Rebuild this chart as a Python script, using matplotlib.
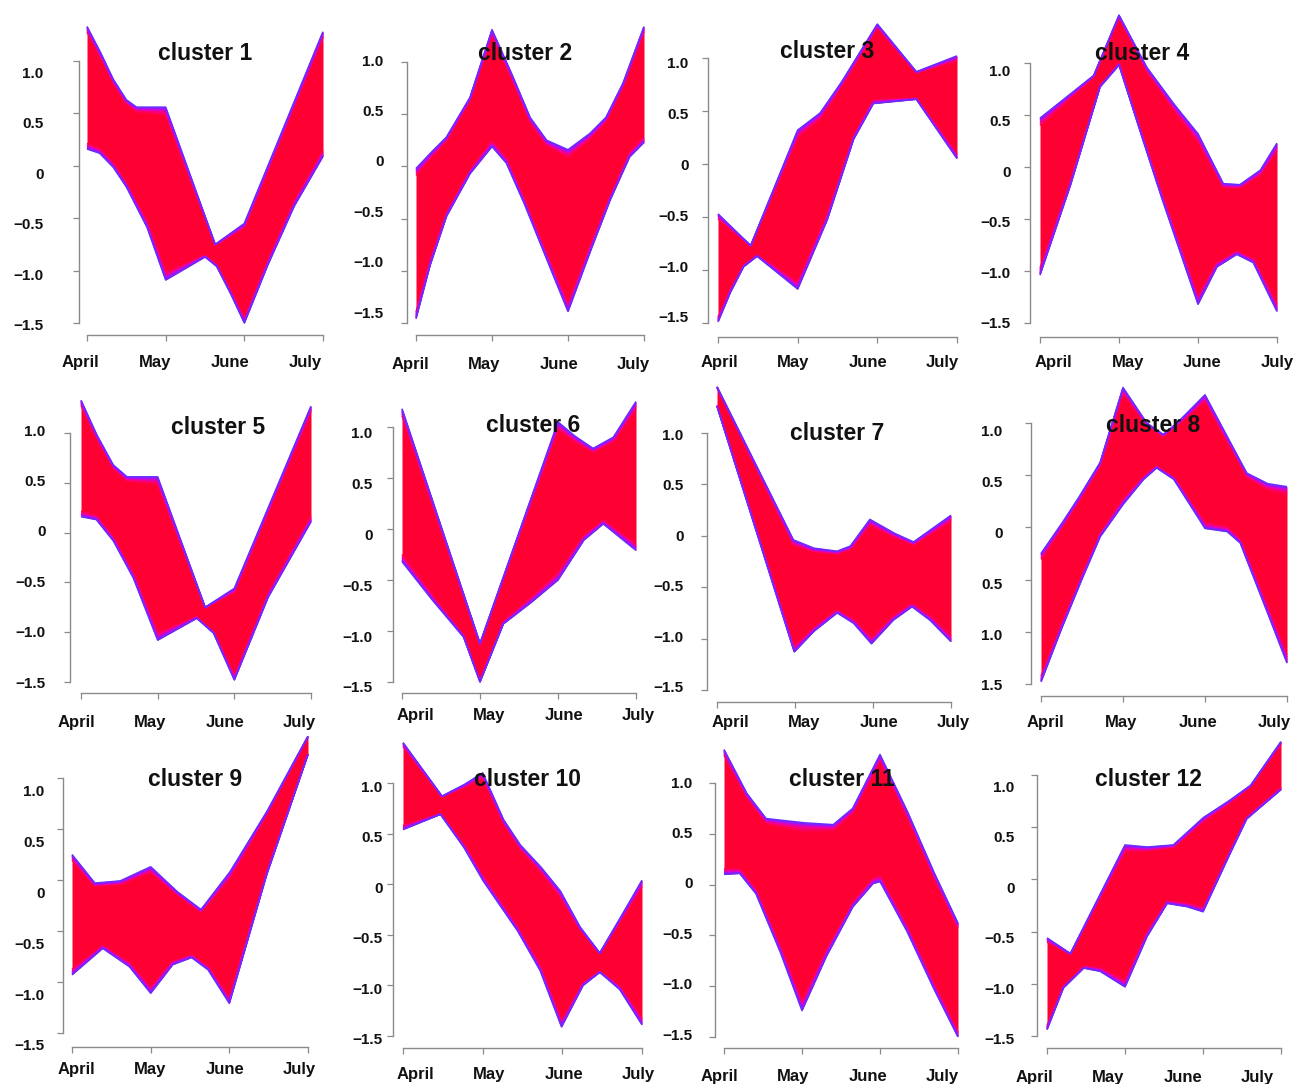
import numpy as np
import matplotlib
matplotlib.use("Agg")
import matplotlib.pyplot as plt
from matplotlib.transforms import ScaledTranslation

plt.rcParams["font.family"] = ["Liberation Sans", "DejaVu Sans"]

W, H = 1298, 1084
DPI = 100

MONTHS = ["April", "May", "June", "July"]
MONTH_POS = [0, 1, 2, 3]
Y_TICKS = [1.0, 0.5, 0.0, -0.5, -1.0, -1.5]
Y_LABELS = ["1.0", "0.5", "0", "\u22120.5", "\u22121.0", "\u22121.5"]
Y_LABELS_C8 = ["1.0", "0.5", "0", "0.5", "1.0", "1.5"]

# Envelopes of the standardised expression profiles in each cluster:
# (month position, value) along the upper and lower edge of the bundle.
c1_upper = [(0, 1.33), (0.16, 1.10), (0.33, 0.83), (0.50, 0.63), (0.63, 0.56), (1.0, 0.56),
            (1.63, -0.75), (2.0, -0.55), (3.0, 1.28)]
c1_lower = [(0, 0.16), (0.16, 0.12), (0.33, -0.01), (0.50, -0.20), (0.76, -0.58), (1.0, -1.09),
            (1.50, -0.87), (1.65, -0.96), (1.82, -1.21), (2.0, -1.50), (2.29, -0.96),
            (2.63, -0.39), (3.0, 0.09)]

c2_upper = [(0, -0.02), (0.18, 0.12), (0.40, 0.28), (0.71, 0.66), (1.0, 1.31), (1.24, 0.92),
            (1.50, 0.47), (1.72, 0.25), (2.0, 0.16), (2.28, 0.31), (2.50, 0.47), (2.72, 0.79),
            (3.0, 1.34)]
c2_lower = [(0, -1.46), (0.18, -0.96), (0.40, -0.48), (0.71, -0.07), (1.0, 0.19), (1.19, 0.03),
            (1.41, -0.33), (1.67, -0.80), (2.0, -1.39), (2.28, -0.84), (2.55, -0.33),
            (2.81, 0.09), (3.0, 0.23)]

c3_upper = [(0, -0.47), (0.41, -0.77), (1.0, 0.32), (1.28, 0.48), (1.54, 0.76), (2.0, 1.32),
            (2.49, 0.87), (3.0, 1.02)]
c3_lower = [(0, -1.49), (0.15, -1.22), (0.32, -0.97), (0.49, -0.87), (1.0, -1.18),
            (1.37, -0.53), (1.70, 0.23), (1.95, 0.57), (2.49, 0.61), (3.0, 0.05)]

c4_upper = [(0, 0.47), (0.68, 0.88), (1.0, 1.46), (1.35, 0.96), (1.69, 0.61), (2.0, 0.32),
            (2.32, -0.16), (2.53, -0.17), (2.79, -0.03), (3.0, 0.23)]
c4_lower = [(0, -1.04), (0.38, -0.19), (0.76, 0.77), (1.0, 0.98), (1.18, 0.55), (1.52, -0.25),
            (2.0, -1.32), (2.24, -0.96), (2.49, -0.84), (2.70, -0.92), (3.0, -1.39)]

c5_upper = [(0, 1.33), (0.20, 0.99), (0.42, 0.68), (0.60, 0.56), (1.0, 0.56), (1.62, -0.75),
            (2.0, -0.56), (3.0, 1.27)]
c5_lower = [(0, 0.16), (0.20, 0.13), (0.42, -0.08), (0.68, -0.45), (1.0, -1.08), (1.51, -0.86),
            (1.73, -1.01), (2.0, -1.48), (2.44, -0.65), (3.0, 0.11)]

c6_upper = [(0, 1.18), (1.0, -1.12), (2.0, 1.05), (2.20, 0.92), (2.45, 0.79), (2.71, 0.90),
            (3.0, 1.25)]
c6_lower = [(0, -0.32), (0.36, -0.67), (0.79, -1.06), (1.0, -1.50), (1.30, -0.93),
            (1.64, -0.73), (2.0, -0.50), (2.33, -0.11), (2.58, 0.05), (3.0, -0.21)]

c7_upper = [(0, 1.45), (0.98, -0.04), (1.24, -0.12), (1.54, -0.15), (1.71, -0.10), (1.96, 0.16),
            (2.26, 0.03), (2.52, -0.06), (3.0, 0.20)]
c7_lower = [(0, 1.26), (0.99, -1.13), (1.24, -0.93), (1.54, -0.75), (1.75, -0.85),
            (1.98, -1.05), (2.26, -0.82), (2.50, -0.69), (2.73, -0.82), (3.0, -1.03)]

c8_upper = [(0, -0.25), (0.23, 0.01), (0.44, 0.26), (0.72, 0.62), (1.0, 1.34), (1.29, 1.00),
            (1.49, 0.89), (1.66, 1.00), (2.0, 1.27), (2.27, 0.87), (2.51, 0.52), (2.76, 0.42),
            (3.0, 0.39)]
c8_lower = [(0, -1.48), (0.23, -1.01), (0.48, -0.53), (0.72, -0.09), (1.0, 0.22), (1.25, 0.46),
            (1.41, 0.57), (1.62, 0.46), (2.0, -0.01), (2.27, -0.04), (2.43, -0.15),
            (2.67, -0.63), (3.0, -1.30)]

c9_upper = [(0, 0.25), (0.29, -0.03), (0.61, -0.01), (1.0, 0.13), (1.33, -0.11), (1.64, -0.29),
            (2.0, 0.07), (2.47, 0.66), (3.0, 1.41)]
c9_lower = [(0, -0.93), (0.39, -0.67), (0.73, -0.85), (1.0, -1.11), (1.28, -0.83),
            (1.52, -0.76), (1.73, -0.88), (2.0, -1.21), (2.47, 0.04), (3.0, 1.23)]

c10_upper = [(0, 1.40), (0.49, 0.87), (0.76, 0.98), (1.0, 1.10), (1.26, 0.64), (1.47, 0.39),
             (1.72, 0.18), (1.97, -0.06), (2.22, -0.42), (2.47, -0.68), (2.76, -0.29),
             (3.0, 0.04)]
c10_lower = [(0, 0.54), (0.47, 0.69), (0.76, 0.37), (1.0, 0.04), (1.43, -0.45), (1.72, -0.85),
             (1.99, -1.41), (2.26, -1.00), (2.47, -0.87), (2.72, -1.04), (3.0, -1.39)]

c11_upper = [(0, 1.33), (0.29, 0.90), (0.54, 0.65), (1.0, 0.61), (1.40, 0.59), (1.65, 0.75),
             (2.0, 1.28), (2.34, 0.74), (2.68, 0.14), (3.0, -0.38)]
c11_lower = [(0, 0.10), (0.20, 0.11), (0.41, -0.09), (0.71, -0.64), (1.0, -1.24), (1.31, -0.71),
             (1.65, -0.22), (1.91, 0.01), (2.0, 0.03), (2.34, -0.45), (2.68, -1.01), (3.0, -1.50)]

c12_upper = [(0, -0.56), (0.30, -0.71), (1.0, 0.33), (1.28, 0.31), (1.62, 0.33), (2.0, 0.59),
             (2.31, 0.74), (2.61, 0.90), (3.0, 1.32)]
c12_lower = [(0, -1.44), (0.21, -1.04), (0.47, -0.85), (0.68, -0.88), (1.0, -1.03),
             (1.28, -0.55), (1.54, -0.23), (1.79, -0.26), (2.0, -0.31), (2.31, 0.19),
             (2.56, 0.58), (3.0, 0.86)]

CLUSTERS = [
    ("cluster 1", c1_upper, c1_lower),
    ("cluster 2", c2_upper, c2_lower),
    ("cluster 3", c3_upper, c3_lower),
    ("cluster 4", c4_upper, c4_lower),
    ("cluster 5", c5_upper, c5_lower),
    ("cluster 6", c6_upper, c6_lower),
    ("cluster 7", c7_upper, c7_lower),
    ("cluster 8", c8_upper, c8_lower),
    ("cluster 9", c9_upper, c9_lower),
    ("cluster 10", c10_upper, c10_lower),
    ("cluster 11", c11_upper, c11_lower),
    ("cluster 12", c12_upper, c12_lower),
]

# Panel frames in pixels:
# spine_x, y(1.0), y(-1.5), x-axis y, x(April), x(July),
# first/last y-label centre, y-label right edge, first/last x-label centre, x-label y,
# title centre x, title centre y
FRAMES = [
    (79, 61, 323, 335, 87, 323, 72, 325, 45, 80, 305, 360, 205, 53),
    (407, 62, 323, 335, 416, 644, 60, 312, 385, 410, 633, 362, 525, 53),
    (708, 58, 323, 337, 718, 957, 63, 317, 690, 719, 942, 360, 827, 52),
    (1030, 63, 323, 337, 1040, 1277, 70, 323, 1012, 1053, 1277, 360, 1142, 53),
    (70, 433, 682, 693, 81, 311, 430, 682, 47, 76, 299, 720, 218, 427),
    (393, 427, 682, 693, 402, 636, 433, 687, 374, 415, 638, 713, 533, 425),
    (707, 433, 690, 702, 717, 951, 434, 687, 685, 730, 953, 720, 837, 433),
    (1031, 423, 684, 696, 1041, 1287, 431, 685, 1004, 1045, 1274, 720, 1153, 425),
    (63, 778, 1033, 1047, 72, 308, 791, 1045, 46, 76, 299, 1067, 195, 780),
    (393, 783, 1036, 1048, 403, 642, 786, 1039, 384, 415, 638, 1072, 528, 780),
    (715, 783, 1037, 1048, 724, 958, 782, 1034, 694, 719, 942, 1074, 842, 780),
    (1037, 775, 1036, 1048, 1047, 1281, 786, 1039, 1016, 1034, 1257, 1075, 1148, 780),
]

RED = "#ff0033"
# membership fringe: outer profiles tinted violet, fading to red inwards
FRINGE_T = [0.0, 0.006, 0.013, 0.022, 0.033, 0.046]
FRINGE_COLORS = ["#6b2cff", "#8a1cff", "#b80cf0", "#e000c0", "#f5008a", "#ff0055"]
AXIS_GREY = "#8a8a8a"
TICK_LEN = 4

fig = plt.figure(figsize=(W / DPI, H / DPI), dpi=DPI)
fig.patch.set_facecolor("white")
grid = np.linspace(0, 3, 901)


def envelope(points):
    xs, ys = zip(*points)
    return np.interp(grid, xs, ys)


for idx, ((title, upper, lower), frame) in enumerate(zip(CLUSTERS, FRAMES)):
    (spine_x, y_hi, y_lo, xaxis_y, x_a, x_j, ylab_hi, ylab_lo, ylab_right,
     xlab_a, xlab_j, xlab_y, tx, ty) = frame

    ax = fig.add_axes([x_a / W, 1 - y_lo / H, (x_j - x_a) / W, (y_lo - y_hi) / H])
    ax.set_xlim(0, 3)
    ax.set_ylim(-1.5, 1.0)
    ax.patch.set_visible(False)
    for side in ("top", "right"):
        ax.spines[side].set_visible(False)
    ax.spines["left"].set_position(("axes", (spine_x - x_a) / (x_j - x_a)))
    ax.spines["left"].set_bounds(-1.5, 1.0)
    ax.spines["bottom"].set_position(("axes", -(xaxis_y - y_lo) / (y_lo - y_hi)))
    ax.spines["bottom"].set_bounds(0, 3)
    for side in ("left", "bottom"):
        ax.spines[side].set_color(AXIS_GREY)
        ax.spines[side].set_linewidth(1.0)

    # profile bundle
    up = envelope(upper)
    lo = envelope(lower)
    ax.fill_between(grid, lo, up, color=RED, lw=0, clip_on=False, zorder=2)
    for t, col in zip(FRINGE_T[::-1], FRINGE_COLORS[::-1]):
        for tt in (t, 1 - t):
            ax.plot(grid, lo + tt * (up - lo), color=col, lw=1.1, clip_on=False,
                    zorder=3, solid_capstyle="butt")

    # y axis
    labels = Y_LABELS_C8 if idx == 7 else Y_LABELS
    ax.set_yticks(Y_TICKS)
    ax.set_yticklabels(labels, fontsize=11, fontweight="bold", color="#111111")
    ax.tick_params(axis="y", length=TICK_LEN, width=0.9, color=AXIS_GREY,
                   pad=(spine_x - TICK_LEN - ylab_right) * 72 / DPI)
    for v, lab in zip(Y_TICKS, ax.get_yticklabels()):
        tick_px = y_hi + (1.0 - v) / 2.5 * (y_lo - y_hi)
        lab_px = ylab_hi + (1.0 - v) / 2.5 * (ylab_lo - ylab_hi)
        dy = lab_px - tick_px
        lab.set_transform(lab.get_transform() +
                          ScaledTranslation(0, -dy / DPI, fig.dpi_scale_trans))

    # x axis
    ax.set_xticks(MONTH_POS)
    ax.set_xticklabels(MONTHS, fontsize=12, fontweight="bold", color="#111111")
    ax.tick_params(axis="x", length=TICK_LEN, width=0.9, color=AXIS_GREY,
                   pad=(xlab_y - 7 - xaxis_y - TICK_LEN) * 72 / DPI)
    for i, lab in enumerate(ax.get_xticklabels()):
        tick_px = x_a + i * (x_j - x_a) / 3
        lab_px = xlab_a + i * (xlab_j - xlab_a) / 3
        dx = lab_px - tick_px
        lab.set_transform(lab.get_transform() +
                          ScaledTranslation(dx / DPI, 0, fig.dpi_scale_trans))

    fig.text(tx / W, 1 - ty / H, title, ha="center", va="center", fontsize=16.5,
             fontweight="bold", color="#111111", zorder=10)

fig.savefig("out.png", dpi=DPI, facecolor="white")
